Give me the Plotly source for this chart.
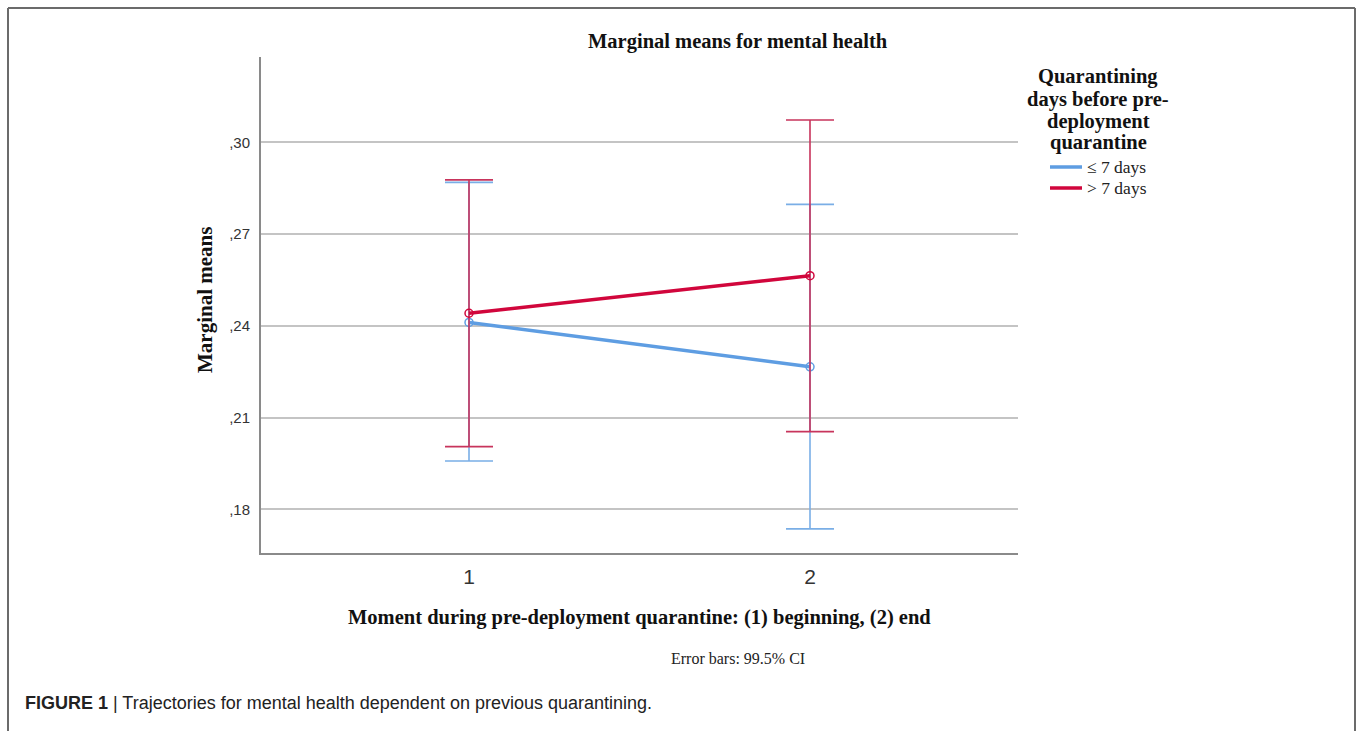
import plotly.graph_objects as go

# Marginal means with 99.5% CI at the two measurement moments
moments = [1, 2]
groups = ["≤ 7 days", "> 7 days"]
means_le7 = [0.2411, 0.2266]
upper_le7 = [0.2869, 0.2797]
lower_le7 = [0.1958, 0.1736]
means_gt7 = [0.2441, 0.2564]
upper_gt7 = [0.2877, 0.3073]
lower_gt7 = [0.2005, 0.2054]
ytick_vals = [0.18, 0.21, 0.24, 0.27, 0.30]
ytick_text = [",18", ",21", ",24", ",27", ",30"]
legend_title_lines = ["Quarantining", "days before pre-", "deployment", "quarantine"]

W, H = 1357, 731
L, R, T, B = 261, 1018, 57, 553
plot_w, plot_h = R - L, B - T


def px(x):
    return (x - L) / plot_w


def py(y):
    return (B - y) / plot_h


SERIF = "Liberation Serif, Times New Roman, serif"
SANS = "Liberation Sans, Arial, sans-serif"

series = [
    (means_le7, upper_le7, lower_le7, "#5E9DE2", "#7AAEE6"),
    (means_gt7, upper_gt7, lower_gt7, "#D1063C", "#C8345C"),
]

fig = go.Figure()
for name, (m, up, lo, line_c, err_c) in zip(groups, series):
    fig.add_trace(go.Scatter(
        x=moments, y=m, name=name, mode="lines+markers",
        line=dict(color=line_c, width=3.5),
        marker=dict(symbol="circle-open", size=8, color=line_c, line=dict(width=1.5)),
        error_y=dict(type="data", symmetric=False,
                     array=[u - v for u, v in zip(up, m)],
                     arrayminus=[v - d for v, d in zip(m, lo)],
                     color=err_c, thickness=1.6, width=24),
        showlegend=False,
    ))

shapes = []
# outer frame (top, left, right edges)
for x0, y0, x1, y1 in [(8, 8, 1355, 8), (8, 8, 8, 731), (1355, 8, 1355, 731)]:
    shapes.append(dict(type="line", xref="paper", yref="paper",
                       x0=px(x0), y0=py(y0), x1=px(x1), y1=py(y1),
                       line=dict(color="#6b6b6b", width=2)))

annotations = [
    dict(text="<b>Marginal means for mental health</b>", x=px(738), y=py(42),
         font=dict(family=SERIF, size=20.5, color="#111")),
    dict(text="<b>Marginal means</b>", x=px(205), y=py(300), textangle=-90,
         font=dict(family=SERIF, size=21, color="#111")),
    dict(text="<b>Moment during pre-deployment quarantine: (1) beginning, (2) end</b>",
         x=px(639), y=py(617), font=dict(family=SERIF, size=20.5, color="#111")),
    dict(text="Error bars: 99.5% CI", x=px(738), y=py(658),
         font=dict(family=SERIF, size=16, color="#222")),
    dict(text="<b>FIGURE 1</b> | Trajectories for mental health dependent on previous quarantining.",
         x=px(23), y=py(703), xanchor="left",
         font=dict(family=SANS, size=18, color="#222")),
]

# legend title, one line at a time
for i, line in enumerate(legend_title_lines):
    annotations.append(dict(text=f"<b>{line}</b>", x=px(1098), y=py(77 + 22 * i),
                            font=dict(family=SERIF, size=20.5, color="#111")))

# legend entries
legend_y = [167, 188]
for name, (m, up, lo, line_c, err_c), ly in zip(groups, series, legend_y):
    shapes.append(dict(type="line", xref="paper", yref="paper",
                       x0=px(1050), x1=px(1082), y0=py(ly), y1=py(ly),
                       line=dict(color=line_c, width=3.5)))
    annotations.append(dict(text=name, x=px(1085), y=py(ly), xanchor="left",
                            font=dict(family=SERIF, size=17.5, color="#222")))

for a in annotations:
    a.setdefault("xref", "paper")
    a.setdefault("yref", "paper")
    a.setdefault("showarrow", False)
    a.setdefault("yanchor", "middle")
    a.setdefault("xanchor", "center")

ymin = 0.30 - (B - 142.3) / 91.75 * 0.03
ymax = 0.30 + (142.3 - T) / 91.75 * 0.03
xmin = 1 - (469 - L) / 341
xmax = 2 + (R - 810) / 341

fig.update_layout(
    width=W, height=H,
    margin=dict(l=L, r=W - R, t=T, b=H - B, pad=0),
    paper_bgcolor="white", plot_bgcolor="white",
    shapes=shapes, annotations=annotations,
    xaxis=dict(range=[xmin, xmax], tickvals=moments, ticktext=["1", "2"],
               showgrid=False, zeroline=False, showline=True,
               linecolor="#8a8a8a", linewidth=2, ticks="",
               ticklabelstandoff=4,
               tickfont=dict(family=SANS, size=21, color="#333")),
    yaxis=dict(range=[ymin, ymax], tickvals=ytick_vals, ticktext=ytick_text,
               showgrid=True, gridcolor="#c4c4c4", gridwidth=1.5,
               zeroline=False, showline=True, linecolor="#8a8a8a", linewidth=2,
               ticks="", ticklabelstandoff=6,
               tickfont=dict(family=SANS, size=15, color="#333")),
)

fig.write_html("out.html")
